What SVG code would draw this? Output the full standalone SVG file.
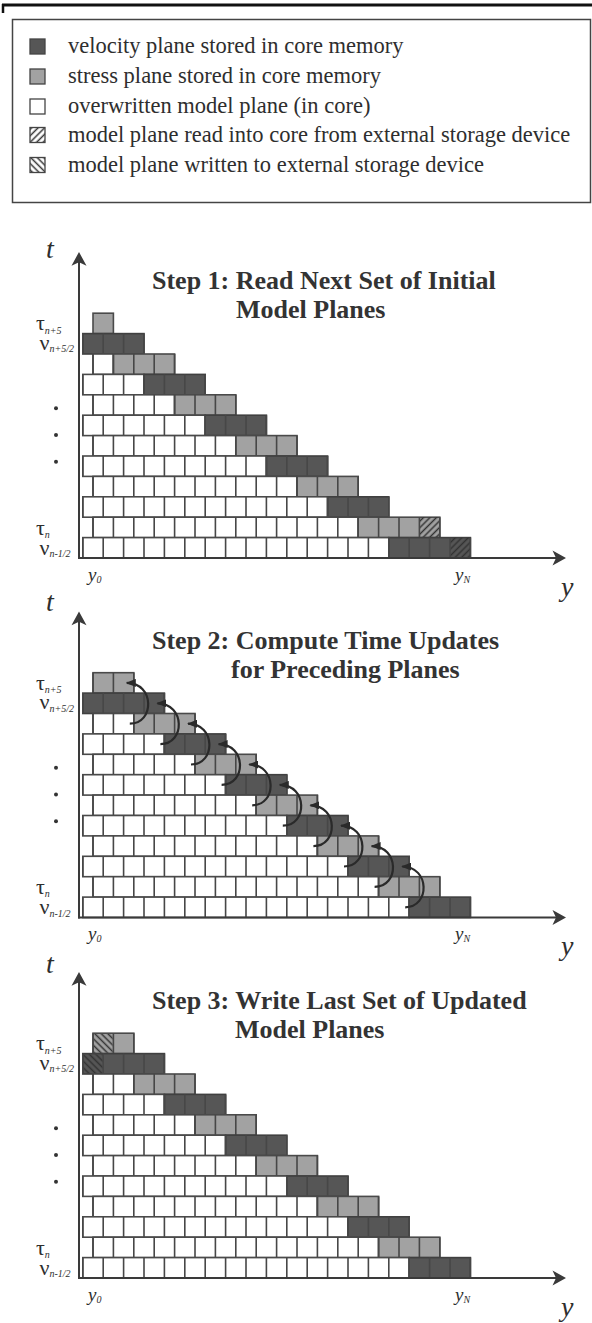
<svg xmlns="http://www.w3.org/2000/svg" width="592" height="1323" viewBox="0 0 592 1323">
  <style>
    text { font-family: "Liberation Serif", "Times New Roman", serif; fill: #2e2e2e; }
    .lg { font-size: 22.5px; }
    .ttl { font-size: 26px; font-weight: bold; fill: #333; }
    .ax { font-size: 28px; font-style: italic; }
    .axs { font-size: 19px; font-style: italic; }
    .gk { font-size: 22px; }
    .sub { font-size: 10px; font-style: italic; }
    .w { fill: #fff; stroke: #4a4a4a; stroke-width: 1.6; }
    .g { fill: #a2a2a2; stroke: #4a4a4a; stroke-width: 1.6; }
    .d { fill: #565656; stroke: #404040; stroke-width: 1.6; }
    .dv { stroke: #474747; stroke-width: 20.4; stroke-dasharray: 1.6 18.8; fill: none; }
    .axis { stroke: #3a3a3a; stroke-width: 2; fill: none; }
    .head { fill: #3a3a3a; }
    .arc { stroke: #2a2a2a; stroke-width: 2.2; fill: none; marker-end: url(#tip); }
    .sw { stroke: #444; stroke-width: 1.3; }
  </style>
  <defs>
    <!-- hatching: "/" = read from external storage, "\" = written to external storage -->
    <pattern id="hatchRead" width="4.6" height="4.6" patternUnits="userSpaceOnUse" patternTransform="rotate(45)">
      <line x1="2.3" y1="0" x2="2.3" y2="4.6" stroke="#333" stroke-width="1.5"/>
    </pattern>
    <pattern id="hatchWrite" width="4.6" height="4.6" patternUnits="userSpaceOnUse" patternTransform="rotate(-45)">
      <line x1="2.3" y1="0" x2="2.3" y2="4.6" stroke="#333" stroke-width="1.5"/>
    </pattern>
    <marker id="tip" viewBox="0 0 10 8" refX="9" refY="4" markerWidth="10" markerHeight="8" markerUnits="userSpaceOnUse" orient="auto">
      <path d="M0,0 L10,4 L0,8 Z" fill="#2a2a2a"/>
    </marker>

    <!-- axes and side labels shared by the three panels (local coords, x-axis at y=244.8) -->
    <g id="axes">
      <line class="axis" x1="79" y1="-52" x2="79" y2="245.8"/>
      <path class="head" d="M79,-61.2 L86.5,-47.5 L79,-51 L71.5,-47.5 Z"/>
      <line class="axis" x1="78" y1="244.8" x2="557" y2="244.8"/>
      <path class="head" d="M566,244.8 L552.5,252.3 L556,244.8 L552.5,237.3 Z"/>
      <text class="gk" x="36" y="16.8">τ<tspan class="sub" dy="4">n+5</tspan></text>
      <text class="gk" x="39.5" y="36.8">ν<tspan class="sub" dy="2.5">n+5/2</tspan></text>
      <circle cx="56" cy="95.1" r="2" fill="#333"/>
      <circle cx="56" cy="121.8" r="2" fill="#333"/>
      <circle cx="56" cy="148.5" r="2" fill="#333"/>
      <text class="gk" x="36" y="221.8">τ<tspan class="sub" dy="3">n</tspan></text>
      <text class="gk" x="39.5" y="241.8">ν<tspan class="sub" dy="2.5">n-1/2</tspan></text>
      <text class="axs" x="88" y="267.8">y<tspan class="sub" dy="2">0</tspan></text>
      <text class="axs" x="455" y="267.8">y<tspan class="sub" dy="2">N</tspan></text>
      <text class="ax" x="561" y="282.5">y</text>
    </g>

    <!-- plane layout after the time update (panels 2 and 3) -->
    <g id="grid23">
      <rect class="g" x="93" y="0" width="40.8" height="20.4"/>
      <line class="dv" x1="92.2" y1="10.2" x2="134.6" y2="10.2"/>
      <rect class="d" x="82.8" y="20.4" width="81.6" height="20.4"/>
      <line class="dv" x1="82" y1="30.6" x2="165.2" y2="30.6"/>
      <rect class="w" x="93" y="40.8" width="40.8" height="20.4"/>
      <rect class="g" x="133.8" y="40.8" width="61.2" height="20.4"/>
      <line class="dv" x1="92.2" y1="51" x2="195.8" y2="51"/>
      <rect class="w" x="82.8" y="61.2" width="81.6" height="20.4"/>
      <rect class="d" x="164.4" y="61.2" width="61.2" height="20.4"/>
      <line class="dv" x1="82" y1="71.4" x2="226.4" y2="71.4"/>
      <rect class="w" x="93" y="81.6" width="102" height="20.4"/>
      <rect class="g" x="195" y="81.6" width="61.2" height="20.4"/>
      <line class="dv" x1="92.2" y1="91.8" x2="257" y2="91.8"/>
      <rect class="w" x="82.8" y="102" width="142.8" height="20.4"/>
      <rect class="d" x="225.6" y="102" width="61.2" height="20.4"/>
      <line class="dv" x1="82" y1="112.2" x2="287.6" y2="112.2"/>
      <rect class="w" x="93" y="122.4" width="163.2" height="20.4"/>
      <rect class="g" x="256.2" y="122.4" width="61.2" height="20.4"/>
      <line class="dv" x1="92.2" y1="132.6" x2="318.2" y2="132.6"/>
      <rect class="w" x="82.8" y="142.8" width="204" height="20.4"/>
      <rect class="d" x="286.8" y="142.8" width="61.2" height="20.4"/>
      <line class="dv" x1="82" y1="153" x2="348.8" y2="153"/>
      <rect class="w" x="93" y="163.2" width="224.4" height="20.4"/>
      <rect class="g" x="317.4" y="163.2" width="61.2" height="20.4"/>
      <line class="dv" x1="92.2" y1="173.4" x2="379.4" y2="173.4"/>
      <rect class="w" x="82.8" y="183.6" width="265.2" height="20.4"/>
      <rect class="d" x="348" y="183.6" width="61.2" height="20.4"/>
      <line class="dv" x1="82" y1="193.8" x2="410" y2="193.8"/>
      <rect class="w" x="93" y="204" width="285.6" height="20.4"/>
      <rect class="g" x="378.6" y="204" width="61.2" height="20.4"/>
      <line class="dv" x1="92.2" y1="214.2" x2="440.6" y2="214.2"/>
      <rect class="w" x="82.8" y="224.4" width="326.4" height="20.4"/>
      <rect class="d" x="409.2" y="224.4" width="61.2" height="20.4"/>
      <line class="dv" x1="82" y1="234.6" x2="471.2" y2="234.6"/>
    </g>
  </defs>

  <rect width="592" height="1323" fill="#fff"/>

  <!-- page rule at the top -->
  <g id="page-rule">
    <line x1="2" y1="5" x2="592" y2="5" stroke="#111" stroke-width="3"/>
    <line x1="3" y1="4" x2="3" y2="13" stroke="#111" stroke-width="2.5"/>
  </g>

  <!-- key -->
  <g id="legend">
    <rect x="12.5" y="19.5" width="578" height="183" fill="none" stroke="#444" stroke-width="1.5"/>
    <rect class="sw" x="30" y="39" width="15" height="15" fill="#565656"/>
    <text class="lg" x="68" y="53">velocity plane stored in core memory</text>
    <rect class="sw" x="30" y="69" width="15" height="15" fill="#a2a2a2"/>
    <text class="lg" x="68" y="83">stress plane stored in core memory</text>
    <rect class="sw" x="30" y="99" width="15" height="15" fill="#fff"/>
    <text class="lg" x="68" y="113">overwritten model plane (in core)</text>
    <rect x="30" y="127.5" width="15" height="15" fill="url(#hatchRead)"/>
    <rect class="sw" x="30" y="127.5" width="15" height="15" fill="none"/>
    <text class="lg" x="68" y="141.5">model plane read into core from external storage device</text>
    <rect x="30" y="157.5" width="15" height="15" fill="url(#hatchWrite)"/>
    <rect class="sw" x="30" y="157.5" width="15" height="15" fill="none"/>
    <text class="lg" x="68" y="171.5">model plane written to external storage device</text>
  </g>

  <!-- Step 1 -->
  <g id="step1" transform="translate(0,313.2)">
    <text class="ax" x="46" y="-55.2">t</text>
    <text class="ttl" x="152" y="-24.5">Step 1: Read Next Set of Initial</text>
    <text class="ttl" x="236" y="4.6">Model Planes</text>
    <g id="step1-planes">
      <rect class="g" x="93" y="0" width="20.4" height="20.4"/>
      <rect class="d" x="82.8" y="20.4" width="61.2" height="20.4"/>
      <line class="dv" x1="82" y1="30.6" x2="144.8" y2="30.6"/>
      <rect class="w" x="93" y="40.8" width="20.4" height="20.4"/>
      <rect class="g" x="113.4" y="40.8" width="61.2" height="20.4"/>
      <line class="dv" x1="92.2" y1="51" x2="175.4" y2="51"/>
      <rect class="w" x="82.8" y="61.2" width="61.2" height="20.4"/>
      <rect class="d" x="144" y="61.2" width="61.2" height="20.4"/>
      <line class="dv" x1="82" y1="71.4" x2="206" y2="71.4"/>
      <rect class="w" x="93" y="81.6" width="81.6" height="20.4"/>
      <rect class="g" x="174.6" y="81.6" width="61.2" height="20.4"/>
      <line class="dv" x1="92.2" y1="91.8" x2="236.6" y2="91.8"/>
      <rect class="w" x="82.8" y="102" width="122.4" height="20.4"/>
      <rect class="d" x="205.2" y="102" width="61.2" height="20.4"/>
      <line class="dv" x1="82" y1="112.2" x2="267.2" y2="112.2"/>
      <rect class="w" x="93" y="122.4" width="142.8" height="20.4"/>
      <rect class="g" x="235.8" y="122.4" width="61.2" height="20.4"/>
      <line class="dv" x1="92.2" y1="132.6" x2="297.8" y2="132.6"/>
      <rect class="w" x="82.8" y="142.8" width="183.6" height="20.4"/>
      <rect class="d" x="266.4" y="142.8" width="61.2" height="20.4"/>
      <line class="dv" x1="82" y1="153" x2="328.4" y2="153"/>
      <rect class="w" x="93" y="163.2" width="204" height="20.4"/>
      <rect class="g" x="297" y="163.2" width="61.2" height="20.4"/>
      <line class="dv" x1="92.2" y1="173.4" x2="359" y2="173.4"/>
      <rect class="w" x="82.8" y="183.6" width="244.8" height="20.4"/>
      <rect class="d" x="327.6" y="183.6" width="61.2" height="20.4"/>
      <line class="dv" x1="82" y1="193.8" x2="389.6" y2="193.8"/>
      <rect class="w" x="93" y="204" width="265.2" height="20.4"/>
      <rect class="g" x="358.2" y="204" width="81.6" height="20.4"/>
      <rect x="419.4" y="204" width="20.4" height="20.4" fill="url(#hatchRead)"/>
      <line class="dv" x1="92.2" y1="214.2" x2="440.6" y2="214.2"/>
      <rect class="w" x="82.8" y="224.4" width="306" height="20.4"/>
      <rect class="d" x="388.8" y="224.4" width="81.6" height="20.4"/>
      <rect x="450" y="224.4" width="20.4" height="20.4" fill="url(#hatchRead)"/>
      <line class="dv" x1="82" y1="234.6" x2="471.2" y2="234.6"/>
    </g>
    <use href="#axes"/>
  </g>

  <!-- Step 2 -->
  <g id="step2" transform="translate(0,672.7)">
    <text class="ax" x="46" y="-61.7">t</text>
    <text class="ttl" x="152" y="-24">Step 2: Compute Time Updates</text>
    <text class="ttl" x="231" y="5.2">for Preceding Planes</text>
    <use href="#grid23"/>
    <use href="#axes"/>
    <g id="step2-updates">
      <path class="arc" d="M129.8,51 C154.8,51 154.8,10.2 126.8,10.2"/>
      <path class="arc" d="M160.4,71.4 C185.4,71.4 185.4,30.6 157.4,30.6"/>
      <path class="arc" d="M191,91.8 C216,91.8 216,51 188,51"/>
      <path class="arc" d="M221.6,112.2 C246.6,112.2 246.6,71.4 218.6,71.4"/>
      <path class="arc" d="M252.2,132.6 C277.2,132.6 277.2,91.8 249.2,91.8"/>
      <path class="arc" d="M282.8,153 C307.8,153 307.8,112.2 279.8,112.2"/>
      <path class="arc" d="M313.4,173.4 C338.4,173.4 338.4,132.6 310.4,132.6"/>
      <path class="arc" d="M344,193.8 C369,193.8 369,153 341,153"/>
      <path class="arc" d="M374.6,214.2 C399.6,214.2 399.6,173.4 371.6,173.4"/>
      <path class="arc" d="M405.2,234.6 C430.2,234.6 430.2,193.8 402.2,193.8"/>
    </g>
  </g>

  <!-- Step 3 -->
  <g id="step3" transform="translate(0,1033.2)">
    <text class="ax" x="46" y="-60">t</text>
    <text class="ttl" x="152" y="-24.5">Step 3: Write Last Set of Updated</text>
    <text class="ttl" x="235" y="4.6">Model Planes</text>
    <use href="#grid23"/>
    <rect x="93.8" y="0.8" width="18.8" height="18.8" fill="url(#hatchWrite)"/>
    <rect x="83.6" y="21.2" width="18.8" height="18.8" fill="url(#hatchWrite)"/>
    <use href="#axes"/>
  </g>
</svg>
